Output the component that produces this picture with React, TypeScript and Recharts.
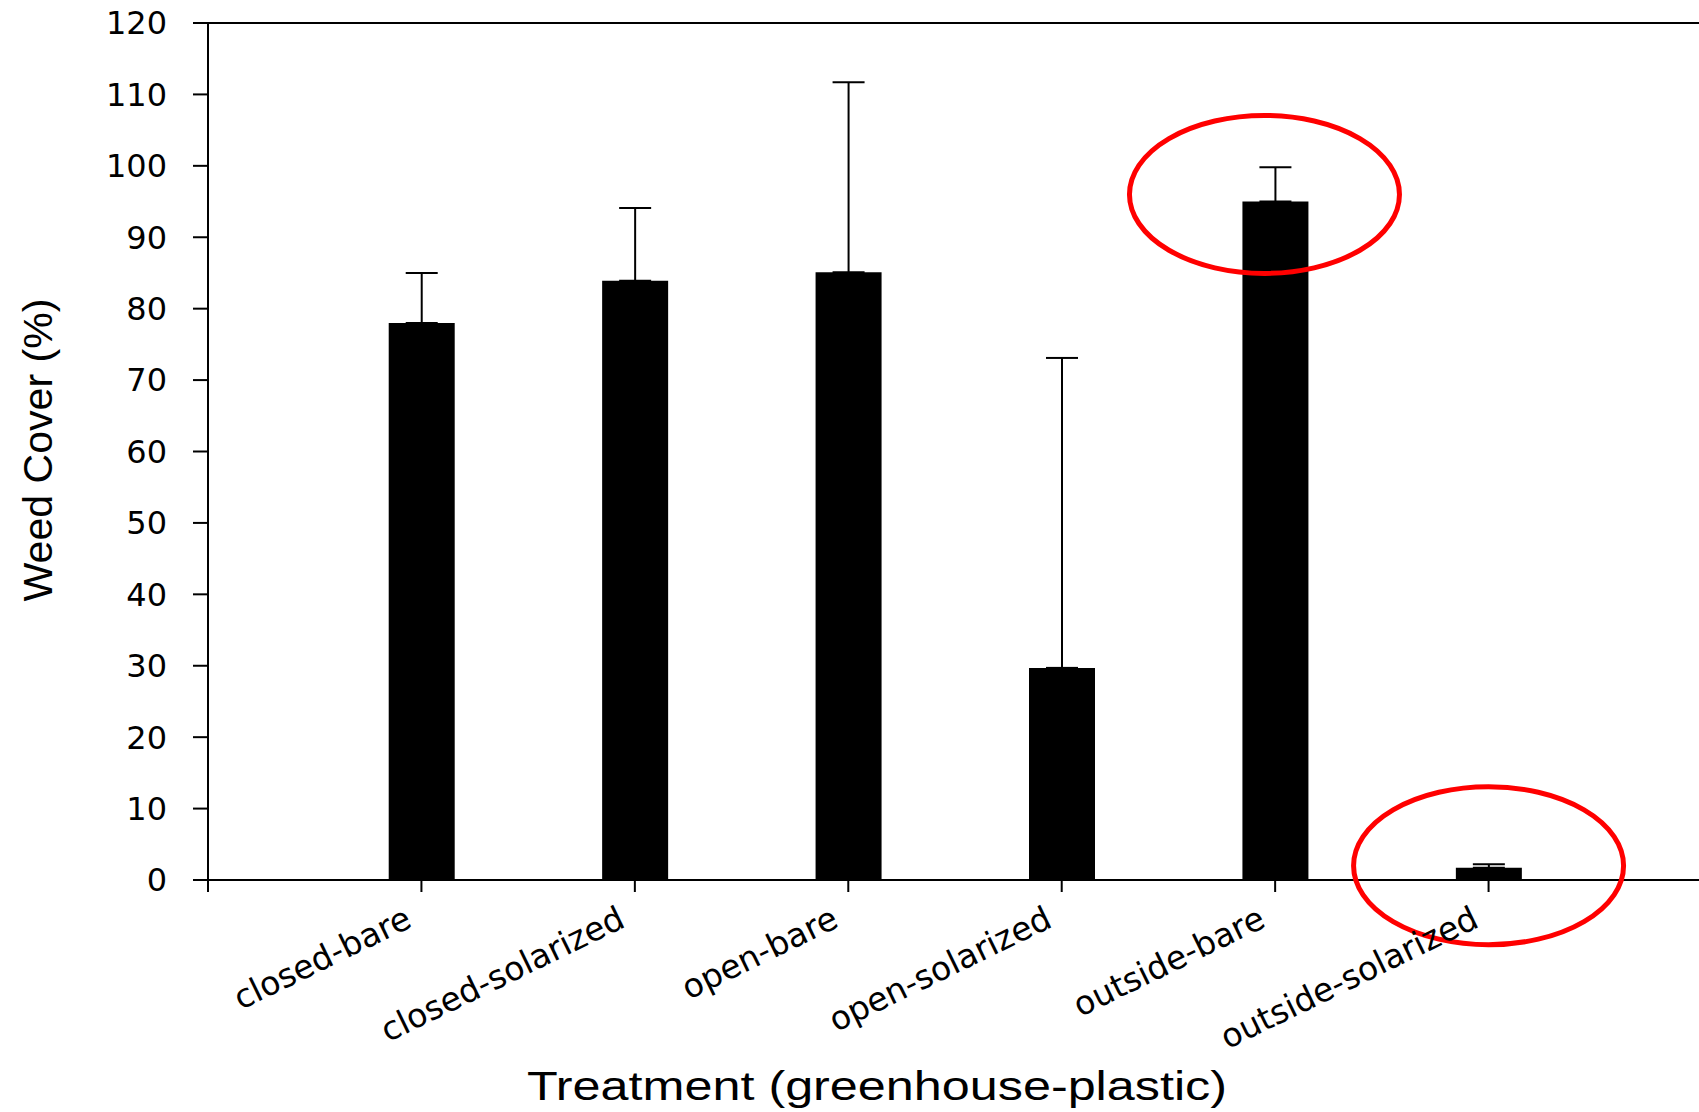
import React from 'react';
import { BarChart, Bar, XAxis, YAxis, ErrorBar, ReferenceLine, ReferenceDot } from 'recharts';

// treatments, in the order they sit on the x axis (slots 1..6, slot 0 is empty)
const treatments = [
  'closed-bare',
  'closed-solarized',
  'open-bare',
  'open-solarized',
  'outside-bare',
  'outside-solarized',
];
const slots = [1, 2, 3, 4, 5, 6];
const weedCover = [78.0, 83.9, 85.1, 29.7, 95.0, 1.7];
const upperError = [7.0, 10.2, 26.6, 43.4, 4.8, 0.5];

const xTicks = [0, 1, 2, 3, 4, 5, 6];
const yTicks = [0, 10, 20, 30, 40, 50, 60, 70, 80, 90, 100, 110, 120];

// red rings drawn over two of the bars (data units)
const ringX = [4.95, 6];
const ringY = [96, 2];

const data = treatments.map((name, i) => ({
  name,
  pos: slots[i],
  cover: weedCover[i],
  err: [0, upperError[i]],
}));

const FONT = '"Liberation Sans", Arial, sans-serif';

const TreatmentTick = (props: any) => {
  const { x, y, payload } = props;
  if (payload.value === 0) return null;
  const label = treatments[payload.value - 1];
  const tx = x - 8;
  const ty = y + 34;
  return (
    <text
      x={tx}
      y={ty}
      textAnchor="end"
      fontFamily='"DejaVu Sans", sans-serif'
      fontSize={33}
      fill="#000"
      transform={`rotate(-26, ${tx}, ${ty})`}
    >
      {label}
    </text>
  );
};

const Ring = (props: any) => (
  <ellipse cx={props.cx} cy={props.cy} rx={135} ry={79} fill="none" stroke="#ff0000" strokeWidth={5} />
);

const App: React.FC = () => {
  return (
    <div style={{ position: 'absolute', left: 0, top: 0, background: '#fff' }}>
      <BarChart
        width={1699}
        height={1112}
        data={data}
        margin={{ top: 23, right: -3, bottom: 0, left: 0 }}
      >
        <XAxis
          type="number"
          dataKey="pos"
          domain={[0, 7]}
          ticks={xTicks}
          allowDataOverflow
          height={232}
          tickSize={12}
          tickMargin={0}
          stroke="#000"
          strokeWidth={2}
          tickLine={{ stroke: '#000', strokeWidth: 2 }}
          tick={<TreatmentTick />}
          interval={0}
          label={() => (
            <text
              x={877}
              y={1100}
              textAnchor="middle"
              fontFamily={FONT}
              fontSize={40}
              fill="#000"
              textLength={700}
              lengthAdjust="spacingAndGlyphs"
            >
              Treatment (greenhouse-plastic)
            </text>
          )}
        />
        <YAxis
          type="number"
          domain={[0, 120]}
          ticks={yTicks}
          interval={0}
          width={208}
          tickSize={15}
          tickMargin={26}
          stroke="#000"
          strokeWidth={2}
          tickLine={{ stroke: '#000', strokeWidth: 2 }}
          tick={{ fill: '#000', fontSize: 32, fontFamily: '"DejaVu Sans", sans-serif' }}
          label={() => (
            <text
              x={52}
              y={450}
              textAnchor="middle"
              fontFamily={FONT}
              fontSize={40}
              fill="#000"
              textLength={303}
              lengthAdjust="spacingAndGlyphs"
              transform="rotate(-90, 52, 450)"
            >
              Weed Cover (%)
            </text>
          )}
        />
        <ReferenceLine y={120} stroke="#000" strokeWidth={2} ifOverflow="extendDomain" />
        <Bar dataKey="cover" fill="#000" barSize={66} isAnimationActive={false}>
          <ErrorBar dataKey="err" width={16} stroke="#000" strokeWidth={2} direction="y" isAnimationActive={false} />
        </Bar>
        {ringX.map((rx, i) => (
          <ReferenceDot key={i} x={rx} y={ringY[i]} r={1} shape={<Ring />} ifOverflow="visible" />
        ))}
      </BarChart>
    </div>
  );
};

export default App;
